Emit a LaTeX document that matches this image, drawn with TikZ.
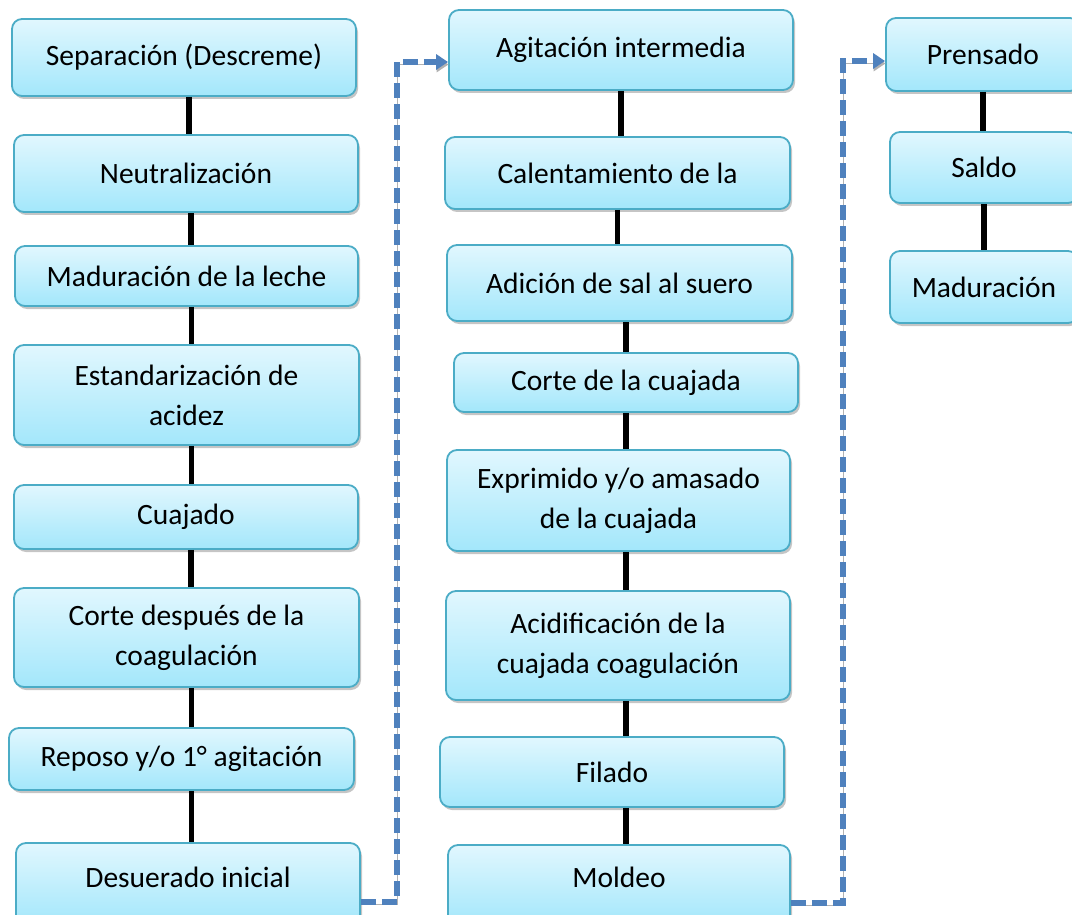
\documentclass[tikz,border=0pt]{standalone}
\usepackage{fontspec}
\setmainfont{Carlito}
\usetikzlibrary{arrows.meta,shadows}

\definecolor{boxedge}{RGB}{75,172,198}
\definecolor{boxtop}{RGB}{225,247,254}
\definecolor{boxbottom}{RGB}{163,231,251}
\definecolor{flowblue}{RGB}{79,129,189}

\begin{document}
\begin{tikzpicture}[x=1pt,y=-1pt,
    procbox/.style={draw=boxedge, line width=1.8pt, rounded corners=10pt,
      top color=boxtop, bottom color=boxbottom, align=center, inner sep=0pt,
      font=\fontsize{29.5}{40}\selectfont,
      drop shadow={shadow xshift=2pt, shadow yshift=-3pt, fill=black!45, opacity=.5}},
    link/.style={line width=5.5pt},
    flowarrow/.style={flowblue, line width=6pt, dash pattern=on 15pt off 6pt,
      -{Triangle[length=12pt,width=15pt]},
      preaction={draw=black!30, transform canvas={shift={(0.5pt,-2.5pt)}}}}]
  \useasboundingbox (0,0) rectangle (1072,915);
  \clip (0,0) rectangle (1072,915);

  % First column
  \node[procbox, minimum width=344pt, minimum height=77pt] (sep) at (184,57.5) {Separación (Descreme)};
  \node[procbox, minimum width=344pt, minimum height=77pt] (neu) at (186,173.5) {Neutralización};
  \node[procbox, minimum width=343pt, minimum height=60pt] (mad) at (186.5,276) {Maduración de la leche};
  \node[procbox, minimum width=345pt, minimum height=100pt] (est) at (186.5,395) {Estandarización de\\acidez};
  \node[procbox, minimum width=344pt, minimum height=64pt] (cua) at (186,517) {Cuajado};
  \node[procbox, minimum width=345pt, minimum height=99pt] (cor) at (186.5,637.5) {Corte después de la\\coagulación};
  \node[procbox, minimum width=345pt, minimum height=62pt] (rep) at (181.5,759) {Reposo y/o 1° agitación};
  \node[procbox, minimum width=344pt, minimum height=82pt, text depth=14pt] (des) at (188,884) {Desuerado inicial};

  % Second column
  \node[procbox, minimum width=344pt, minimum height=80pt] (agi) at (621,50) {Agitación intermedia};
  \node[procbox, minimum width=345pt, minimum height=72pt] (cal) at (617.5,173) {Calentamiento de la};
  \node[procbox, minimum width=345pt, minimum height=76pt] (adi) at (619.5,283) {Adición de sal al suero};
  \node[procbox, minimum width=344pt, minimum height=59pt] (cdc) at (626,382.5) {Corte de la cuajada};
  \node[procbox, minimum width=343pt, minimum height=101pt] (exp) at (618.5,500.5) {Exprimido y/o amasado\\de la cuajada};
  \node[procbox, minimum width=344pt, minimum height=109pt] (aci) at (618,645.5) {Acidificación de la\\cuajada coagulación};
  \node[procbox, minimum width=344pt, minimum height=70pt] (fil) at (612,772) {Filado};
  \node[procbox, minimum width=342pt, minimum height=80pt, text depth=16pt] (mol) at (619,885) {Moldeo};

  % Third column
  \node[procbox, minimum width=194pt, minimum height=73pt] (pre) at (983,54.5) {Prensado};
  \node[procbox, minimum width=188pt, minimum height=71pt] (sal) at (984,167.5) {Saldo};
  \node[procbox, minimum width=188pt, minimum height=72pt] (mdr) at (984,287) {Maduración};

  % Links
  \begin{scope}[transform canvas={xshift=5pt}]
    \draw[link] (sep.south) -- (sep.south |- neu.north);
    \draw[link] (neu.south) -- (neu.south |- mad.north);
    \draw[link] (mad.south) -- (mad.south |- est.north);
    \draw[link] (est.south) -- (est.south |- cua.north);
    \draw[link] (cua.south) -- (cua.south |- cor.north);
    \draw[link] (cor.south) -- (cor.south |- rep.north);
    \draw[link] (cor.south |- rep.south) -- (cor.south |- des.north);
  \end{scope}
  \draw[link] (agi.south) -- (agi.south |- cal.north);
  \draw[link] (cal.south) -- (cal.south |- adi.north);
  \draw[link] (cdc.north) -- (cdc.north |- adi.south);
  \draw[link] (cdc.south) -- (cdc.south |- exp.north);
  \draw[link] (cdc.south |- exp.south) -- (cdc.south |- aci.north);
  \draw[link] (cdc.south |- aci.south) -- (cdc.south |- fil.north);
  \draw[link] (cdc.south |- fil.south) -- (cdc.south |- mol.north);
  \draw[link] (pre.south) -- (pre.south |- sal.north);
  \draw[link] (sal.south) -- (sal.south |- mdr.north);

  % Dashed flow arrows
  \draw[flowarrow] ([yshift=-18pt]des.east) -- ++(36,0) |- ([yshift=-12pt]agi.west);
  \draw[flowarrow] ([yshift=-18pt]mol.east) -- ++(52,0) |- ([yshift=-6.5pt]pre.west);
\end{tikzpicture}
\end{document}
